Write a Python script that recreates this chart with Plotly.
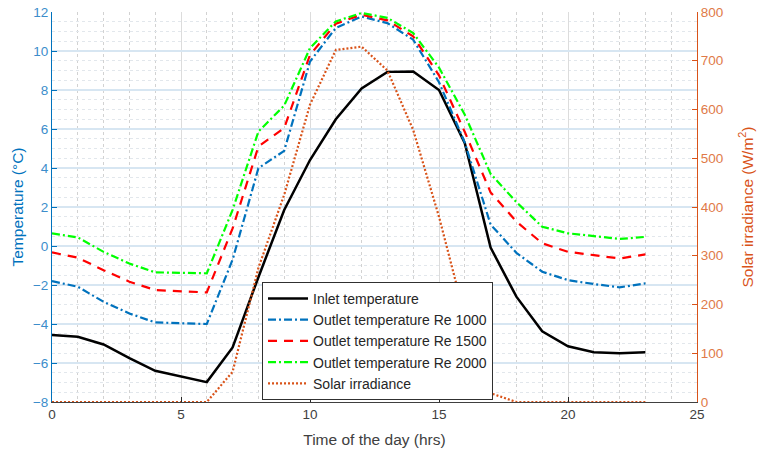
import plotly.graph_objects as go

# hourly data
hours = list(range(24))
inlet = [-4.57, -4.65, -5.05, -5.75, -6.4, -6.68, -6.98, -5.2, -1.6, 1.85, 4.41, 6.5,
         8.08, 8.93, 8.95, 8.0, 5.27, -0.08, -2.6, -4.37, -5.14, -5.45, -5.5, -5.45]
re1000 = [-1.8, -2.09, -2.86, -3.46, -3.92, -3.95, -4.0, -0.7, 3.99, 4.88, 9.46, 11.18,
          11.77, 11.43, 10.58, 8.4, 5.3, 1.1, -0.35, -1.32, -1.75, -1.95, -2.12, -1.92]
re1500 = [-0.33, -0.6, -1.24, -1.83, -2.26, -2.31, -2.38, 0.9, 5.1, 6.05, 9.8, 11.4,
          11.86, 11.57, 10.75, 8.75, 5.85, 2.75, 1.25, 0.14, -0.3, -0.47, -0.64, -0.43]
re2000 = [0.65, 0.44, -0.3, -0.9, -1.35, -1.37, -1.4, 1.85, 5.87, 7.2, 10.15, 11.52,
          11.95, 11.7, 10.92, 9.15, 6.73, 3.7, 2.25, 0.99, 0.65, 0.51, 0.36, 0.47]
solar = [0, 0, 0, 0, 0, 0, 0, 62, 275, 425, 610, 722,
         729, 680, 558, 380, 175, 18, 0, 0, 0, 0, 0, 0]

BLUE = "#0072BD"
ORANGE = "#D95319"
FONT = "Liberation Sans, Arial, sans-serif"

fig = go.Figure()

fig.add_trace(go.Scatter(x=hours, y=inlet, name="Inlet temperature", mode="lines",
                         line=dict(color="black", width=2.5)))
fig.add_trace(go.Scatter(x=hours, y=re1000, name="Outlet temperature Re 1000", mode="lines",
                         line=dict(color=BLUE, width=2.2, dash="8px,3px,2px,3px")))
fig.add_trace(go.Scatter(x=hours, y=re1500, name="Outlet temperature Re 1500", mode="lines",
                         line=dict(color="#FF0000", width=2.2, dash="9px,7px")))
fig.add_trace(go.Scatter(x=hours, y=re2000, name="Outlet temperature Re 2000", mode="lines",
                         line=dict(color="#00FF00", width=2.2, dash="8px,3px,2px,3px")))
fig.add_trace(go.Scatter(x=hours, y=solar, name="Solar irradiance", mode="lines",
                         line=dict(color=ORANGE, width=2.2, dash="2px,2px"), yaxis="y2"))

fig.update_layout(
    width=757, height=451,
    margin=dict(l=52, r=60, t=12, b=49),
    paper_bgcolor="white", plot_bgcolor="white",
    font=dict(family=FONT, size=14, color="#262626"),
    showlegend=True,
    legend=dict(x=0.3256, y=0.308, xanchor="left", yanchor="top",
                bgcolor="white", bordercolor="#303030", borderwidth=1,
                font=dict(size=14, color="#262626"), tracegroupgap=0,
                itemwidth=40),
    xaxis=dict(range=[0, 25], dtick=5, tick0=0, ticks="inside", ticklen=5,
               tickcolor="#262626", showline=True, linecolor="#404040", linewidth=1,
               tickfont=dict(size=13.5, color="#404040"), automargin=False,
               showgrid=True, gridcolor="#DCDCDC", gridwidth=1, zeroline=False,
               minor=dict(dtick=1, tick0=0, showgrid=True, gridcolor="#D2D2D2",
                          griddash="dot", gridwidth=1),
               title=dict(text="Time of the day (hrs)", font=dict(size=15.5, color="#404040"),
                          standoff=12)),
    yaxis=dict(range=[-8, 12], dtick=2, tick0=-8, ticks="inside", ticklen=5,
               tickcolor=BLUE, showline=True, linecolor=BLUE, linewidth=1,
               tickfont=dict(size=13.5, color="#3C8DCB"), automargin=False,
               showgrid=True, gridcolor="#D7E6F2", gridwidth=1.5, zeroline=False,
               minor=dict(dtick=0.5, tick0=-8, showgrid=True, gridcolor="#E2E7EC",
                          griddash="dot", gridwidth=1),
               title=dict(text="Temperature (°C)", font=dict(size=15.5, color=BLUE),
                          standoff=5)),
    yaxis2=dict(range=[0, 800], dtick=100, overlaying="y", side="right",
                ticks="inside", ticklen=5, tickcolor=ORANGE,
                showline=True, linecolor=ORANGE, linewidth=1,
                tickfont=dict(size=13.5, color="#E07A48"), automargin=False,
                showgrid=False, zeroline=False,
                title=dict(text="Solar irradiance (W/m<sup>2</sup>)",
                           font=dict(size=15.5, color=ORANGE), standoff=19)),
)

# drop the browser's default 8px body margin so the figure sits at the page corner
fig.write_html("out.html", config={"displayModeBar": False},
               post_script="document.body.style.margin='0px';")
